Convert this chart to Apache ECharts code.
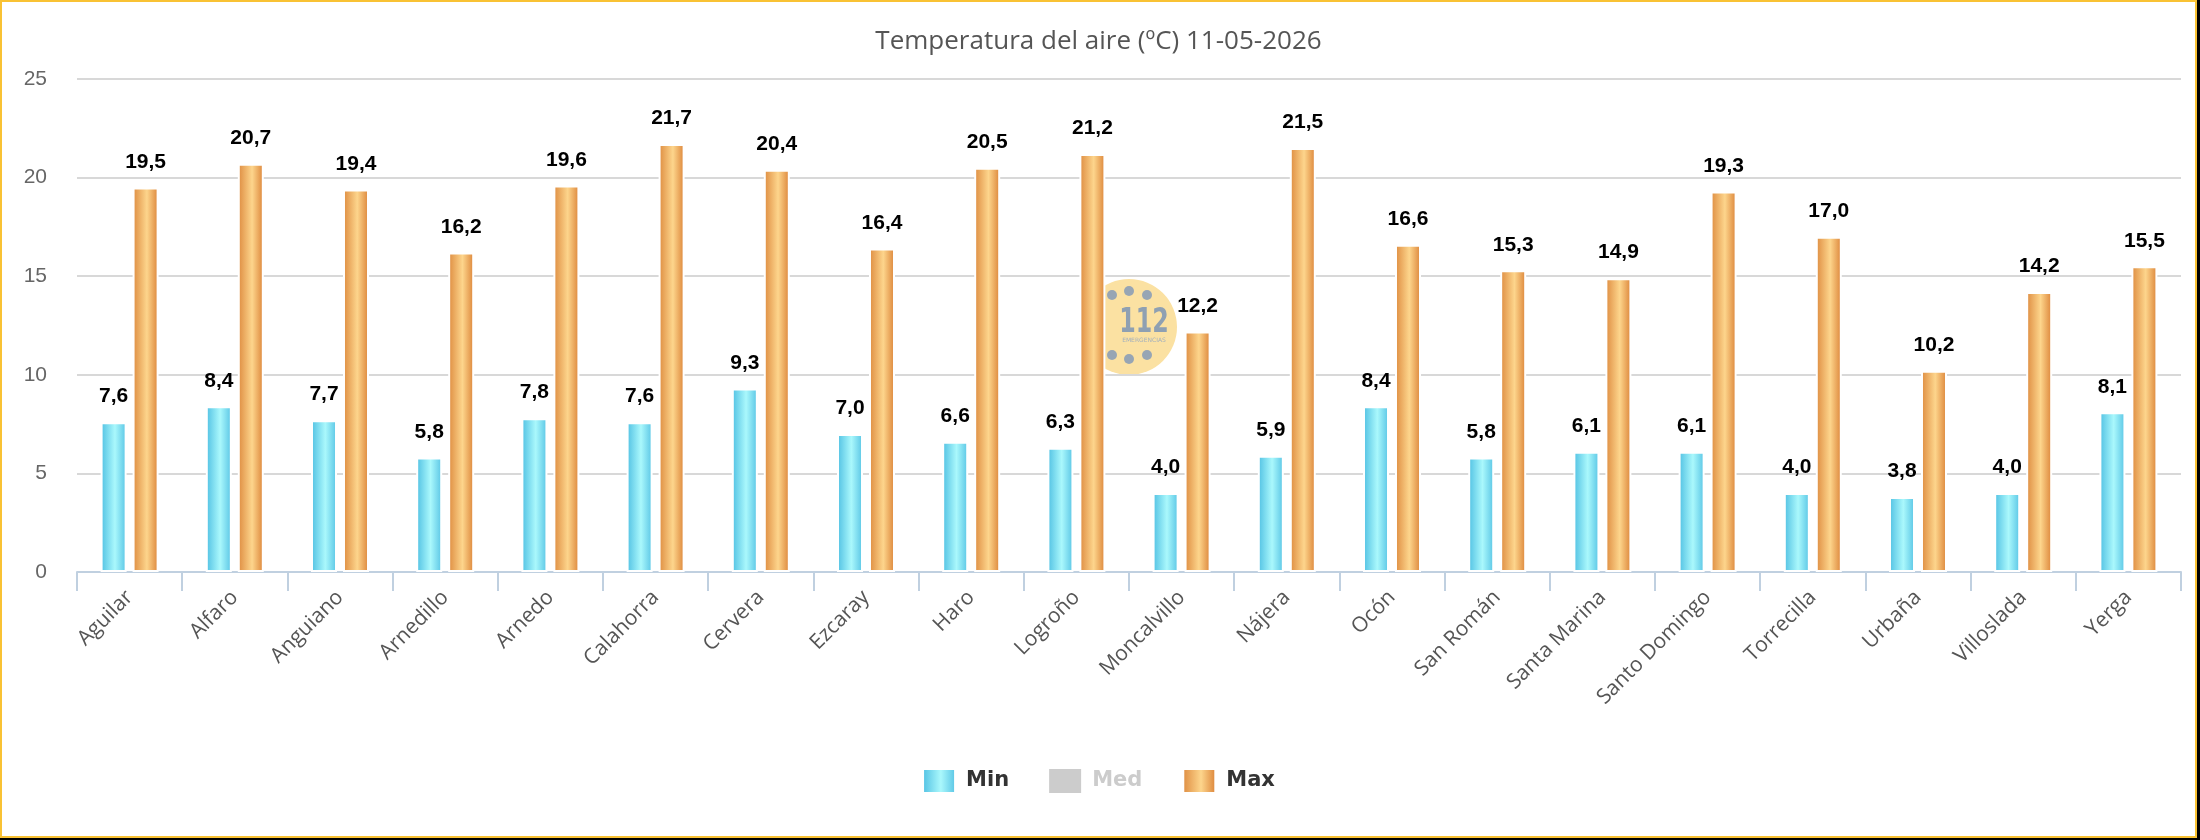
<!DOCTYPE html>
<html>
<head>
<meta charset="utf-8">
<title>Temperatura del aire</title>
<script src="https://cdn.jsdelivr.net/npm/echarts@6/dist/echarts.min.js"></script>
<style>
  html, body { margin: 0; padding: 0; background: #000; }
  body { width: 2200px; height: 840px; background: #000; }
  .frame {
    width: 2193px;
    height: 834px;
    border: 2px solid #f9c234;
    background: #fff;
  }
  #chart { width: 2193px; height: 834px; }
</style>
</head>
<body>
<div class="frame"><div id="chart"></div></div>
<script>
const stations = ['Aguilar', 'Alfaro', 'Anguiano', 'Arnedillo', 'Arnedo', 'Calahorra', 'Cervera', 'Ezcaray', 'Haro', 'Logroño',
  'Moncalvillo', 'Nájera', 'Ocón', 'San Román', 'Santa Marina', 'Santo Domingo', 'Torrecilla', 'Urbaña', 'Villoslada', 'Yerga']
const minValues = [7.6, 8.4, 7.7, 5.8, 7.8, 7.6, 9.3, 7.0, 6.6, 6.3, 4.0, 5.9, 8.4, 5.8, 6.1, 6.1, 4.0, 3.8, 4.0, 8.1]
const medValues = []
const maxValues = [19.5, 20.7, 19.4, 16.2, 19.6, 21.7, 20.4, 16.4, 20.5, 21.2, 12.2, 21.5, 16.6, 15.3, 14.9, 19.3, 17.0, 10.2, 14.2, 15.5]
const yTicks = [0, 5, 10, 15, 20, 25]

const chart = echarts.init(document.getElementById('chart'))

// degradado horizontal de las barras
function barGradient(edge, mid, edge2) {
  return new echarts.graphic.LinearGradient(0, 0, 1, 0, [
    { offset: 0, color: edge },
    { offset: 0.55, color: mid },
    { offset: 1, color: edge2 }
  ])
}

const labelStyle = {
  show: true,
  position: 'top',
  distance: 15,
  fontFamily: '"Liberation Sans", sans-serif',
  fontWeight: 'bold',
  fontSize: 21,
  color: '#000',
  formatter: p => p.value.toFixed(1).replace('.', ',')
}

// logo 112 de fondo
const logoX = 1127, logoY = 325
const dots = [[-17, -32], [0, -36], [18, -32], [-17, 28], [0, 32], [18, 28]]

const option = {
  animation: false,
  title: {
    text: 'Temperatura del aire (ºC) 11-05-2026',
    left: 'center',
    top: 22,
    textStyle: { fontFamily: '"Open Sans", sans-serif', fontSize: 26, fontWeight: 'normal', color: '#555' }
  },
  legend: {
    top: 761,
    left: 'center',
    itemWidth: 32,
    itemHeight: 24,
    itemGap: 40,
    inactiveColor: '#ccc',
    selected: { Med: false },
    textStyle: { fontFamily: '"DejaVu Sans", sans-serif', fontSize: 21, fontWeight: 'bold', color: '#333', padding: [0, 0, 0, 6] },
    data: [
      { name: 'Min', icon: 'rect', itemStyle: { color: barGradient('#4ebfe2', '#aaf8fc', '#56c3e4') } },
      { name: 'Med', icon: 'rect', itemStyle: { color: '#ccc' } },
      { name: 'Max', icon: 'rect', itemStyle: { color: barGradient('#dd8a3e', '#fdd58c', '#db8236') } }
    ]
  },
  grid: { left: 75, right: 14, top: 77, bottom: 264 },
  xAxis: {
    type: 'category',
    data: stations,
    axisLine: { lineStyle: { color: '#c0d0e0', width: 2 } },
    axisTick: { show: true, length: 19, lineStyle: { color: '#c0d0e0', width: 2 } },
    axisLabel: {
      rotate: 45,
      margin: 22,
      interval: 0,
      fontFamily: '"Open Sans", sans-serif',
      fontSize: 21,
      color: '#555'
    }
  },
  yAxis: {
    type: 'value',
    min: yTicks[0],
    max: yTicks[yTicks.length - 1],
    interval: 5,
    axisLine: { show: false },
    axisTick: { show: false },
    axisLabel: {
      margin: 30,
      fontFamily: '"Liberation Sans", sans-serif',
      fontSize: 21,
      color: '#666'
    },
    splitLine: { lineStyle: { color: '#d8d8d8', width: 2 } }
  },
  graphic: [
    { type: 'circle', z: 0, shape: { cx: logoX, cy: logoY, r: 48 }, style: { fill: '#fbe1a2' } },
    {
      type: 'text', z: 0, x: logoX + 15, y: logoY - 4, scaleX: 0.72,
      style: { text: '112', fill: '#8fa0b2', font: 'bold 33px "DejaVu Sans", sans-serif', align: 'center', verticalAlign: 'middle' }
    },
    {
      type: 'text', z: 0, x: logoX + 15, y: logoY + 13,
      style: { text: 'EMERGENCIAS', fill: '#a3b0bd', font: '6px "DejaVu Sans", sans-serif', align: 'center', verticalAlign: 'middle' }
    },
    ...dots.map(d => ({ type: 'circle', z: 0, shape: { cx: logoX + d[0], cy: logoY + d[1], r: 5 }, style: { fill: '#97a5b4' } }))
  ],
  series: [
    {
      name: 'Min',
      type: 'bar',
      data: minValues,
      barWidth: 26,
      barGap: '23%',
      itemStyle: { color: barGradient('#4ebfe2', '#aaf8fc', '#56c3e4'), borderColor: '#fff', borderWidth: 2 },
      label: labelStyle,
      z: 3
    },
    {
      name: 'Med',
      type: 'bar',
      data: medValues,
      barWidth: 26,
      itemStyle: { color: '#ccc' },
      label: labelStyle
    },
    {
      name: 'Max',
      type: 'bar',
      data: maxValues,
      barWidth: 26,
      itemStyle: { color: barGradient('#dd8a3e', '#fdd58c', '#db8236'), borderColor: '#fff', borderWidth: 2 },
      label: labelStyle,
      z: 3
    }
  ]
}

chart.setOption(option)
</script>
</body>
</html>
